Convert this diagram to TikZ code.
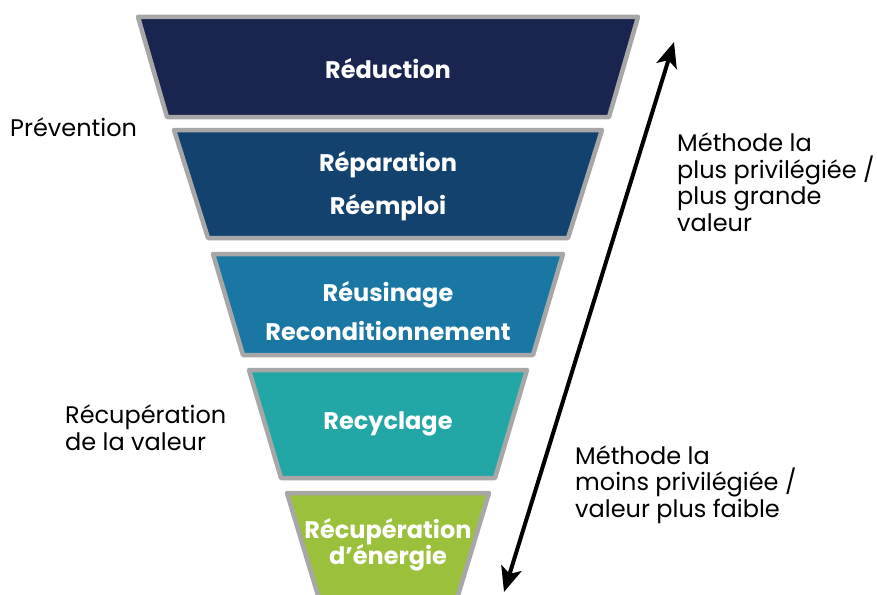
\documentclass[tikz,border=0pt]{standalone}
\usepackage{fontspec}
\setmainfont{Poppins}
\usetikzlibrary{arrows.meta,positioning}
\definecolor{funnelgray}{HTML}{A7A7A7}
\definecolor{reductioncol}{HTML}{19244F}
\definecolor{reparationcol}{HTML}{14426F}
\definecolor{reusinagecol}{HTML}{1A77A3}
\definecolor{recyclagecol}{HTML}{22A7A6}
\definecolor{energiecol}{HTML}{9BC13C}
\tikzstyle{funnelbox} = [draw=funnelgray, line width=4.5pt, line join=round]
\tikzstyle{funneltext} = [text=white, font=\bfseries\fontsize{24}{26}\selectfont, align=center]
\tikzstyle{sidetext} = [font=\fontsize{24}{26.5}\selectfont, align=left, inner sep=0pt]
\tikzstyle{rangearrow} = [line width=4pt, {Stealth[length=25pt,width=21pt,inset=6pt]}-{Stealth[length=25pt,width=21pt,inset=6pt]}]
\newcommand{\funnellevel}[8]{% #1: name; #2/#3: top/bottom y; #4/#5: half widths; #6: colour; #7: text y
  \draw[funnelbox, fill=#6] (388-#4,#2) -- (388+#4,#2) -- (388+#5,#3) -- (388-#5,#3) -- cycle;
  \node[funneltext] (#1) at (388,#7) {#8};
}

\begin{document}
\begin{tikzpicture}[x=1pt,y=-1pt]
        \useasboundingbox (0,0) rectangle (877,594);
        % funnel, top to bottom
        \funnellevel{reduction}{17}{117}{250}{221}{reductioncol}{69}{Réduction}
        \funnellevel{reparation}{130}{238}{214}{180}{reparationcol}{186}{Réparation\\[15pt]Réemploi}
        \funnellevel{reusinage}{254}{355}{175}{145}{reusinagecol}{311}{Réusinage\\[13pt]Reconditionnement}
        \funnellevel{recyclage}{370}{478}{139}{107}{recyclagecol}{424}{Recyclage}
        \funnellevel{energie}{493}{612}{101}{65}{energiecol}{545}{Récupération\\[-1pt]d’énergie}
        % side labels (base = last line)
        \node[sidetext, anchor=base west] (prevention) at (10,136) {Prévention};
        \node[sidetext, anchor=base west] (valeur) at (65,450) {Récupération\\de la valeur};
        \node[sidetext, anchor=base west] (most) at (677,231) {Méthode la\\plus privilégiée /\\plus grande\\valeur};
        \node[sidetext, anchor=base west] (least) at (575,517) {Méthode la\\moins privilégiée /\\valeur plus faible};
        % range arrow
        \coordinate (high) at (674,42);
        \coordinate (low) at (504,592);
        \draw[rangearrow] (low) -- (high);
      \end{tikzpicture}
\end{document}
